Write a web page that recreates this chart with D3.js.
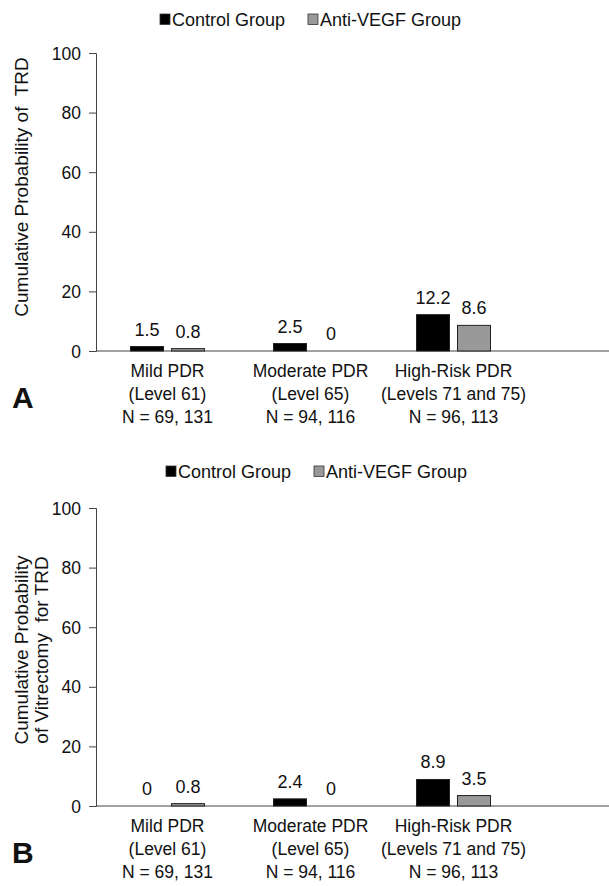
<!DOCTYPE html>
<html>
<head>
<meta charset="utf-8">
<style>
  body { margin: 0; background: #fff; }
  text { font-family: "Liberation Sans", Arial, sans-serif; fill: #111; }
</style>
</head>
<body>
<svg id="chart" width="609" height="886"></svg>
<script src="https://d3js.org/d3.v7.min.js"></script>
<script>
    // data
    let categories = ['Mild PDR', 'Moderate PDR', 'High-Risk PDR']
    let catLine2 = ['(Level 61)', '(Level 65)', '(Levels 71 and 75)']
    let catLine3 = ['N = 69, 131', 'N = 94, 116', 'N = 96, 113']
    let series = ['Control Group', 'Anti-VEGF Group']
    let trdControl = [1.5, 2.5, 12.2]
    let trdAntiVegf = [0.8, 0, 8.6]
    let vitControl = [0, 2.4, 8.9]
    let vitAntiVegf = [0.8, 0, 3.5]
    let yTicks = [0, 20, 40, 60, 80, 100]

    let colors = ['#000000', '#999999']
    let svg = d3.select('#chart')

    // one panel of the figure
    function drawPanel(opts) {
        let g = svg.append('g')
        let y = d3.scaleLinear().domain([0, 100]).range([opts.bottom, opts.bottom - 298])
        let x0 = d3.scaleBand().domain(categories).range([96, 525])
        let x1 = d3.scaleBand().domain(series)
            .range([x0.bandwidth() / 2 - 37, x0.bandwidth() / 2 + 37])
            .paddingInner(0.195)

        // legend
        let leg = g.append('g').attr('transform', 'translate(' + opts.legendX + ',' + opts.legendY + ')')
        let legX = [0, 148]
        series.forEach(function (s, i) {
            leg.append('rect')
                .attr('x', legX[i]).attr('y', -12)
                .attr('width', 10).attr('height', 10.5)
                .attr('fill', colors[i])
                .attr('stroke', '#333').attr('stroke-width', 0.8)
            leg.append('text')
                .attr('x', legX[i] + 12).attr('y', 0)
                .attr('font-size', 18)
                .text(s)
        })

        // y axis
        let yAxis = d3.axisLeft(y).tickValues(yTicks).tickSize(7).tickPadding(8)
        let ya = g.append('g').attr('transform', 'translate(96,0)').call(yAxis)
        ya.select('.domain').attr('stroke', '#444')
        ya.selectAll('.tick line').attr('stroke', '#444')
        ya.selectAll('.tick text')
            .attr('font-size', 17.5)
            .attr('font-family', '"Liberation Sans", Arial, sans-serif')
            .attr('fill', '#111')
            .attr('dy', '0.35em')

        // x axis line
        g.append('line')
            .attr('x1', 96).attr('x2', 609)
            .attr('y1', y(0)).attr('y2', y(0))
            .attr('stroke', '#444').attr('stroke-width', 1.2)

        // bars
        let rows = categories.map(function (c, i) {
            return { cat: c, vals: [opts.a[i], opts.b[i]] }
        })
        let grp = g.selectAll('.grp').data(rows).enter().append('g')
            .attr('transform', function (d) { return 'translate(' + x0(d.cat) + ',0)' })
        grp.selectAll('rect').data(function (d) {
            return d.vals.map(function (v, j) { return { s: series[j], v: v, j: j } })
        }).enter().append('rect')
            .attr('x', function (d) { return x1(d.s) })
            .attr('width', x1.bandwidth())
            .attr('y', function (d) { return y(d.v) })
            .attr('height', function (d) { return y(0) - y(d.v) })
            .attr('fill', function (d) { return colors[d.j] })
            .attr('stroke', '#222').attr('stroke-width', 1)
            .attr('display', function (d) { return d.v === 0 ? 'none' : null })
        grp.selectAll('.val').data(function (d) {
            return d.vals.map(function (v, j) { return { s: series[j], v: v } })
        }).enter().append('text')
            .attr('x', function (d) { return x1(d.s) + x1.bandwidth() / 2 })
            .attr('y', function (d) { return y(d.v) - 11 })
            .attr('text-anchor', 'middle')
            .attr('font-size', 18)
            .text(function (d) { return d.v })

        // category labels
        categories.forEach(function (c, i) {
            let cx = x0(c) + x0.bandwidth() / 2
            let lines = [c, catLine2[i], catLine3[i]]
            lines.forEach(function (t, k) {
                g.append('text')
                    .attr('x', cx).attr('y', y(0) + 26 + k * 23)
                    .attr('text-anchor', 'middle')
                    .attr('font-size', 17.5)
                    .text(t)
            })
        })

        // y title
        opts.title.forEach(function (t, k) {
            g.append('text')
                .attr('transform', 'translate(' + (28 + k * 19.5) + ',' + opts.titleY + ') rotate(-90)')
                .attr('text-anchor', 'middle')
                .attr('font-size', 19)
                .attr('xml:space', 'preserve')
                .style('white-space', 'pre')
                .text(t)
        })

        // panel letter
        g.append('text')
            .attr('x', 12).attr('y', opts.bottom + 57)
            .attr('font-family', '"Open Sans", "DejaVu Sans", sans-serif')
            .attr('font-weight', 'bold')
            .attr('font-size', 30)
            .attr('fill', '#000')
            .text(opts.letter)
    }

    drawPanel({
        bottom: 351, a: trdControl, b: trdAntiVegf,
        legendX: 160, legendY: 26, titleY: 187,
        title: ['Cumulative Probability of  TRD'], letter: 'A'
    })
    drawPanel({
        bottom: 806, a: vitControl, b: vitAntiVegf,
        legendX: 166, legendY: 478, titleY: 650,
        title: ['Cumulative Probability', 'of Vitrectomy  for TRD'], letter: 'B'
    })
</script>
</body>
</html>
